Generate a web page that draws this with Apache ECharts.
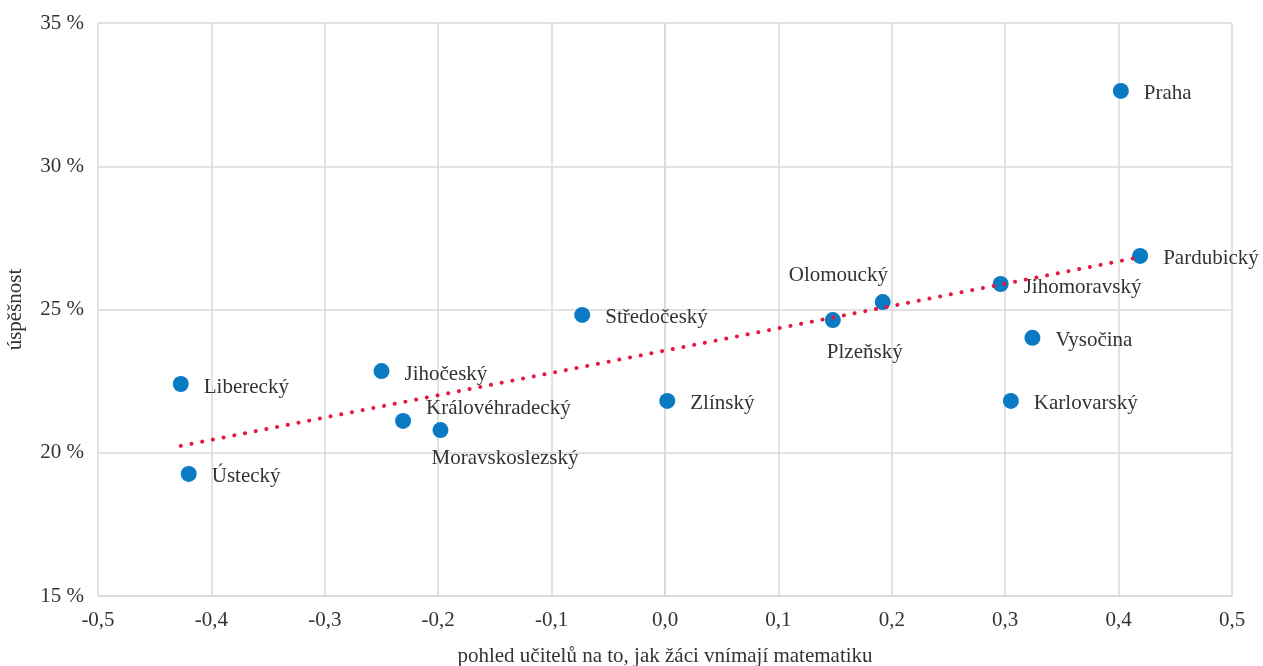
<!DOCTYPE html>
<html><head><meta charset="utf-8">
<script src="https://cdn.jsdelivr.net/npm/echarts@6/dist/echarts.min.js"></script>
<style>html,body{margin:0;padding:0;background:#fff}#c{width:1263px;height:666px}</style>
</head><body><div id="c"></div>
<script>
const regions = ['Praha','Pardubický','Jihomoravský','Vysočina','Karlovarský','Olomoucký','Plzeňský','Středočeský','Zlínský','Jihočeský','Královéhradecký','Moravskoslezský','Liberecký','Ústecký'];
const teacherView = [0.402,0.419,0.296,0.324,0.305,0.192,0.148,-0.073,0.002,-0.250,-0.231,-0.198,-0.427,-0.420];
const success = [32.63,26.87,25.89,24.01,21.81,25.26,24.63,24.81,21.81,22.85,21.11,20.79,22.40,19.26];
const trendX = [-0.427,0.419];
const trendY = [20.24,26.83];
const xTicks = ['-0,5','-0,4','-0,3','-0,2','-0,1','0,0','0,1','0,2','0,3','0,4','0,5'];

const labelOffsets = {
  'Olomoucký':[-117,-27],
  'Plzeňský':[-29,32],
  'Královéhradecký':[0,-12],
  'Moravskoslezský':[-32,28]
};
const font = 'Liberation Serif, Times New Roman, serif';
const pts = regions.map((r,i)=>{
  const o = labelOffsets[r] || [0,3];
  return {value:[teacherView[i],success[i]], name:r, label:{offset:o}};
});
const chart = echarts.init(document.getElementById('c'));
chart.setOption({
  animation:false,
  grid:{left:98,right:31,top:23,bottom:70,outerBoundsMode:'none',containLabel:false},
  xAxis:{type:'value',min:-0.5,max:0.5,interval:0.1,
    name:'pohled učitelů na to, jak žáci vnímají matematiku',nameLocation:'middle',nameGap:50,
    nameTextStyle:{fontFamily:font,fontSize:21,color:'#333'},
    axisLine:{show:true,lineStyle:{color:'#d9d9d9',width:1.5}},axisTick:{show:false},
    axisLabel:{fontFamily:font,fontSize:21,color:'#333',margin:14,
      formatter:v=>xTicks[Math.round((v+0.5)*10)]},
    splitLine:{lineStyle:{color:'#d9d9d9',width:1.5}}},
  yAxis:{type:'value',min:15,max:35,interval:5,
    name:'úspěšnost',nameLocation:'middle',nameGap:72,
    nameTextStyle:{fontFamily:font,fontSize:21,color:'#333'},
    axisLine:{show:true,lineStyle:{color:'#d9d9d9',width:1.5}},axisTick:{show:false},
    axisLabel:{fontFamily:font,fontSize:21,color:'#333',margin:14,formatter:v=>v+' %'},
    splitLine:{lineStyle:{color:'#d9d9d9',width:1.5}}},
  series:[
    {type:'line',data:trendX.map((x,i)=>[x,trendY[i]]),symbol:'none',z:3,
      lineStyle:{color:'#e8173f',width:4,type:[0.1,10.8],cap:'round'}},
    {type:'scatter',data:pts,symbolSize:16,z:2,
      itemStyle:{color:'#0a7bc2',opacity:1},
      label:{show:true,position:'right',distance:15,formatter:p=>p.name,
        fontFamily:font,fontSize:21,color:'#333'}}
  ]
});
</script></body></html>
